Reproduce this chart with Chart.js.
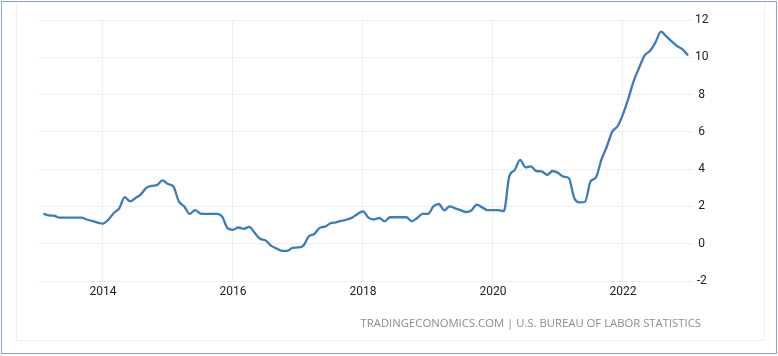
<!DOCTYPE html>
<html>
<head>
<meta charset="utf-8">
<script src="https://cdn.jsdelivr.net/npm/chart.js@4/dist/chart.umd.min.js"></script>
<style>
  html, body { margin: 0; padding: 0; background: #fff; }
  #wrap { position: relative; width: 778px; height: 356px; overflow: hidden; }
  #outer { position: absolute; left: 1px; top: 1px; width: 774px; height: 351px; border: 1px solid #8aa5dd; }
  #inner { position: absolute; left: 16px; top: 2px; width: 747px; height: 338px; border: 1px solid #efefef; border-top: none; }
  #cv { position: absolute; left: 0; top: 0; }
  #src { position: absolute; right: 77px; top: 315px; font: 11.3px "Open Sans", sans-serif; color: #8c8c8c; white-space: nowrap; }
</style>
</head>
<body>
<div id="wrap">
  <div id="outer"></div>
  <div id="inner"></div>
  <canvas id="cv" width="778" height="356"></canvas>
  <div id="src">TRADINGECONOMICS.COM | U.S. BUREAU OF LABOR STATISTICS</div>
</div>
<script>
// Monthly observations, Feb 2013 .. Jan 2023 (annual % change)
const startYear = 2013;
const startMonth = 2;
const values = [
  1.61, 1.52, 1.50, 1.40, 1.40, 1.40, 1.40, 1.40, 1.30, 1.22, 1.13,
  1.08, 1.30, 1.65, 1.90, 2.50, 2.27, 2.45, 2.65, 3.00, 3.10, 3.15, 3.40,
  3.20, 3.07, 2.27, 2.00, 1.60, 1.80, 1.62, 1.60, 1.60, 1.60, 1.45, 0.83,
  0.75, 0.87, 0.80, 0.90, 0.58, 0.27, 0.18, -0.10, -0.25, -0.38, -0.38, -0.22,
  -0.20, -0.10, 0.40, 0.52, 0.85, 0.92, 1.10, 1.15, 1.22, 1.30, 1.40, 1.60,
  1.74, 1.40, 1.30, 1.38, 1.20, 1.42, 1.42, 1.42, 1.42, 1.20, 1.38, 1.60,
  1.60, 2.00, 2.13, 1.79, 2.00, 1.90, 1.80, 1.70, 1.78, 2.10, 1.95, 1.80,
  1.80, 1.80, 1.75, 3.60, 3.95, 4.50, 4.10, 4.15, 3.90, 3.88, 3.70, 3.90,
  3.80, 3.60, 3.52, 2.45, 2.22, 2.25, 3.34, 3.55, 4.50, 5.20, 6.00, 6.30,
  6.95, 7.80, 8.75, 9.45, 10.10, 10.35, 10.80, 11.38, 11.12, 10.85, 10.60, 10.42,
  10.10
];
const xTickYears = [2014, 2016, 2018, 2020, 2022];
const yTickValues = [-2, 0, 2, 4, 6, 8, 10, 12];

// month labels -> fractional-year positions (first day of month)
const monthLabels = values.map((_, i) => {
  const m0 = (startMonth - 1) + i;
  const y = startYear + Math.floor(m0 / 12);
  const m = (m0 % 12) + 1;
  return y + '-' + String(m).padStart(2, '0');
});
const points = monthLabels.map((lab, i) => {
  const [y, m] = lab.split('-').map(Number);
  return { x: y + (m - 1) / 12, y: values[i] };
});

const FONT = 'Roboto, "Open Sans", sans-serif';

new Chart(document.getElementById('cv'), {
  type: 'line',
  data: {
    datasets: [{
      data: points,
      borderColor: '#3b7cba',
      borderWidth: 2.3,
      pointRadius: 0,
      fill: false,
      cubicInterpolationMode: 'monotone'
    }]
  },
  options: {
    responsive: false,
    animation: false,
    events: [],
    layout: { padding: { left: 38, top: 20, right: 50, bottom: 55 } },
    plugins: { legend: { display: false }, tooltip: { enabled: false } },
    scales: {
      x: {
        type: 'linear',
        min: 2013,
        max: 2023.077,
        afterBuildTicks: s => { s.ticks = xTickYears.map(v => ({ value: v })); },
        afterFit: s => { s.height = 20; },
        grid: { color: '#efefef', lineWidth: 1, drawTicks: false },
        border: { display: false },
        ticks: {
          padding: 4,
          color: '#222',
          font: { family: FONT, size: 12 },
          maxRotation: 0,
          callback: v => String(v)
        }
      },
      y: {
        position: 'right',
        min: -2,
        max: 12,
        afterBuildTicks: s => { s.ticks = yTickValues.map(v => ({ value: v })); },
        afterFit: s => { s.width = 35; },
        grid: { color: '#efefef', lineWidth: 1, drawTicks: false },
        border: { display: false },
        ticks: {
          padding: 2,
          crossAlign: 'center',
          color: '#222',
          font: { family: FONT, size: 12 },
          callback: v => String(v)
        }
      }
    }
  }
});
</script>
</body>
</html>
